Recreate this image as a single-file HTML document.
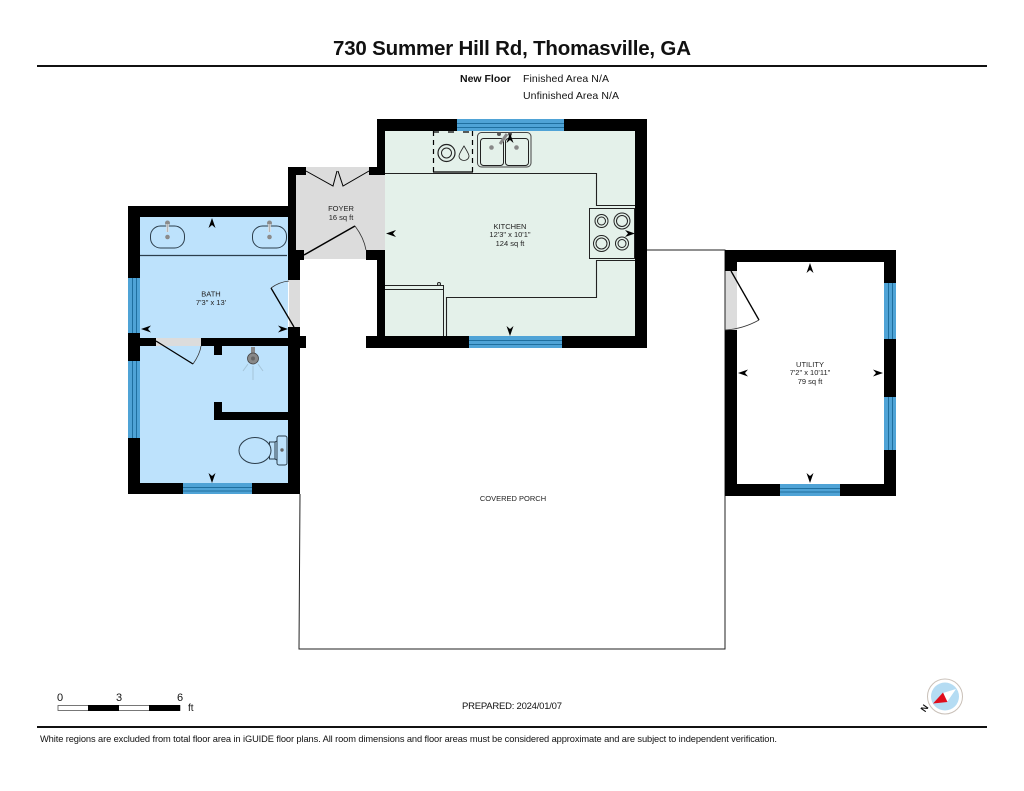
<!DOCTYPE html>
<html><head><meta charset="utf-8"><style>
html,body{margin:0;padding:0;background:#fff}
svg{display:block}
text{font-family:"Liberation Sans",Arial,sans-serif;fill:#111}
.lbl{font-size:7.5px;text-anchor:middle;fill:#222}
</style></head><body>
<svg xmlns="http://www.w3.org/2000/svg" width="1024" height="791" viewBox="0 0 1024 791">
<rect width="1024" height="791" fill="#fff"/>
<text x="512" y="55" font-size="20.5" font-weight="bold" text-anchor="middle" textLength="358" fill="#000">730 Summer Hill Rd, Thomasville, GA</text>
<rect x="37" y="65" width="950" height="2" fill="#111"/>
<text x="460" y="82" font-size="10.5" font-weight="bold">New Floor</text>
<text x="523" y="82" font-size="10.5" textLength="86">Finished Area N/A</text>
<text x="523" y="99" font-size="10.5" textLength="96">Unfinished Area N/A</text>

<!-- room fills -->
<rect x="385" y="131" width="250" height="205" fill="#e4f1ea"/>
<rect x="140" y="217" width="148" height="266" fill="#bde2fc"/>
<rect x="296" y="167" width="89" height="92" fill="#dcdcdc"/>
<rect x="289" y="280" width="11" height="47" fill="#dcdcdc"/>
<rect x="156" y="338" width="45" height="8" fill="#dcdcdc"/>
<rect x="725" y="271" width="12" height="59" fill="#dcdcdc"/>

<!-- porch -->
<path d="M647 250H725V649H299L300 494" fill="none" stroke="#222" stroke-width="1"/>

<!-- walls -->
<g fill="#000">
<rect x="128" y="206" width="161" height="11"/>
<rect x="128" y="206" width="12" height="72"/>
<rect x="128" y="333" width="12" height="28"/>
<rect x="128" y="438" width="12" height="56"/>
<rect x="128" y="483" width="55" height="11"/>
<rect x="252" y="483" width="48" height="11"/>
<rect x="288" y="327" width="12" height="167"/>
<rect x="288" y="250" width="12" height="30"/>
<rect x="140" y="338" width="16" height="8"/>
<rect x="201" y="338" width="87" height="8"/>
<rect x="300" y="336" width="6" height="12"/>
<rect x="214" y="346" width="8" height="9"/>
<rect x="214" y="402" width="8" height="18"/>
<rect x="214" y="412" width="74" height="8"/>
<rect x="288" y="167" width="8" height="84"/>
<rect x="288" y="167" width="18" height="8"/>
<rect x="369" y="167" width="16" height="8"/>
<rect x="296" y="250" width="8" height="10"/>
<rect x="366" y="250" width="19" height="10"/>
<rect x="377" y="119" width="80" height="12"/>
<rect x="564" y="119" width="83" height="12"/>
<rect x="377" y="119" width="8" height="56"/>
<rect x="377" y="250" width="8" height="98"/>
<rect x="635" y="119" width="12" height="229"/>
<rect x="366" y="336" width="103" height="12"/>
<rect x="562" y="336" width="85" height="12"/>
<rect x="725" y="250" width="171" height="12"/>
<rect x="725" y="250" width="12" height="21"/>
<rect x="725" y="330" width="12" height="166"/>
<rect x="884" y="250" width="12" height="33"/>
<rect x="884" y="339" width="12" height="58"/>
<rect x="884" y="450" width="12" height="46"/>
<rect x="725" y="484" width="55" height="12"/>
<rect x="840" y="484" width="56" height="12"/>
</g>

<!-- windows -->
<g fill="#4fa3d6" stroke="none">
<rect x="457" y="119" width="107" height="12"/>
<rect x="469" y="336" width="93" height="12"/>
<rect x="128" y="278" width="12" height="55"/>
<rect x="128" y="361" width="12" height="77"/>
<rect x="183" y="483" width="69" height="11"/>
<rect x="884" y="283" width="12" height="56"/>
<rect x="884" y="397" width="12" height="53"/>
<rect x="780" y="484" width="60" height="12"/>
</g>
<g stroke="#1f6f9f" stroke-width="1" fill="none">
<path d="M457 123.500H564M457 127.500H564"/>
<path d="M469 340.500H562M469 344.500H562"/>
<path d="M132.500 278V333M136.500 278V333"/>
<path d="M132.500 361V438M136.500 361V438"/>
<path d="M183 487.500H252M183 491H252"/>
<path d="M888.500 283V339M892.500 283V339"/>
<path d="M888.500 397V450M892.500 397V450"/>
<path d="M780 488.500H840M780 492H840"/>
</g>

<!-- doors -->
<g fill="none" stroke="#000">
<path d="M304 255L355 226" stroke-width="1.500"/>
<path d="M355 226Q364 238 366 250" stroke-width=".8" stroke="#333"/>
<path d="M294 327L271 288" stroke-width="1.300"/>
<path d="M271 288Q279 282 289 281" stroke-width=".8" stroke="#333"/>
<path d="M156 341L193 364" stroke-width="1.300"/>
<path d="M193 364Q200 354 201 346" stroke-width=".8" stroke="#333"/>
<path d="M731 271L759 320" stroke-width="1.300"/>
<path d="M759 320Q743 329 725 330" stroke-width=".8" stroke="#333"/>
<path d="M306 171L333 186L337 171" stroke-width="1"/>
<path d="M369 171L343 186L338 171" stroke-width="1"/>
</g>

<!-- kitchen counters -->
<g fill="none" stroke="#222" stroke-width="1">
<path d="M385 173.500H596.500V205.500H635" stroke-width="1.100"/>
<path d="M635 260.500H596.500V297.500H446.500V336" stroke-width="1.100"/>
<path d="M385 285.500H443.500V336"/>
<path d="M385 289.500H443"/>
<circle cx="439" cy="284" r="1.500"/>
<rect x="589.500" y="208.500" width="45" height="50" fill="#e4f1ea"/>
<circle cx="601.500" cy="221" r="6.500"/><circle cx="601.500" cy="221" r="4"/>
<circle cx="622" cy="221" r="8"/><circle cx="622" cy="221" r="5.500"/>
<circle cx="601.500" cy="243.500" r="8"/><circle cx="601.500" cy="243.500" r="5.500"/>
<circle cx="622" cy="243.500" r="6.500"/><circle cx="622" cy="243.500" r="4"/>
<rect x="477.500" y="132.500" width="53.500" height="34.500" rx="4" stroke="#444"/>
<rect x="480.500" y="138.500" width="23" height="27" rx="3"/>
<rect x="505.500" y="138.500" width="23" height="27" rx="3"/>
<path d="M433.500 131V172M472.500 131V172" stroke-width="1.200" stroke-dasharray="5 4" stroke="#000"/>
<path d="M433 132H472" stroke="#000" stroke-width="1.200" stroke-dasharray="6 9"/>
<path d="M433 172H473" stroke="#000" stroke-width="1.200"/>
<circle cx="446.500" cy="153" r="8.500" stroke-width="1.200"/><circle cx="446.500" cy="153" r="5"/>
<path d="M464 146C461 151 459 154 459 156A5 4.500 0 0 0 469 156C469 154 467 151 464 146Z" stroke-width=".8"/>
</g>
<circle cx="491.500" cy="147.500" r="2.300" fill="#888"/>
<circle cx="516.500" cy="147.500" r="2.300" fill="#888"/>
<path d="M500 144L507 134" stroke="#888" stroke-width="3"/>
<circle cx="499" cy="134" r="2" fill="#555"/><circle cx="510" cy="134" r="2" fill="#555"/>

<!-- bath sinks -->
<g fill="none" stroke="#2c3e4c" stroke-width="1">
<rect x="150.500" y="226" width="34" height="22" rx="10"/>
<rect x="252.500" y="226" width="34" height="22" rx="10"/>
<path d="M140 255.500H287" stroke-width="1.200"/>
</g>
<g fill="#8b8b8b">
<circle cx="167.500" cy="237" r="2.300"/><circle cx="269.500" cy="237" r="2.300"/>
<circle cx="167.500" cy="223" r="2.500"/><circle cx="269.500" cy="223" r="2.500"/>
</g>
<path d="M167.500 224V232M269.500 224V232" stroke="#ddd" stroke-width="2.500"/>
<path d="M167.500 224V232M269.500 224V232" stroke="#999" stroke-width=".6" fill="none"/>

<!-- shower -->
<rect x="251" y="347" width="4" height="12" fill="#8a8a8a"/>
<circle cx="253" cy="358.500" r="5.500" fill="#888" stroke="#444" stroke-width=".8"/>
<circle cx="253" cy="358.500" r="2" fill="#666"/>
<path d="M253 366V380M248 364L243 371M258 364L263 371" stroke="#a5c4d8" stroke-width="1" fill="none"/>

<!-- toilet -->
<g fill="#bde2fc" stroke="#2c3e4c" stroke-width="1">
<rect x="269.500" y="442" width="5.500" height="17"/>
<ellipse cx="255" cy="450.500" rx="16" ry="13"/>
<rect x="277" y="436" width="10" height="29" rx="2"/>
</g>
<path d="M275 442L277 441M275 459L277 460" stroke="#2c3e4c" fill="none"/>
<circle cx="282" cy="450" r="1.700" fill="#666"/>

<!-- arrows -->
<g fill="#000">
<path d="M0 0L-3.500 10L0 7L3.500 10Z" transform="translate(212 218)"/>
<path d="M0 0L-3.500 10L0 7L3.500 10Z" transform="translate(810 263)"/>
<path d="M0 0L-3.500 10L0 7L3.500 10Z" transform="translate(510 133)"/>
<path d="M0 0L-3.500 -10L0 -7L3.500 -10Z" transform="translate(212 483)"/>
<path d="M0 0L-3.500 -10L0 -7L3.500 -10Z" transform="translate(510 336)"/>
<path d="M0 0L-3.500 -10L0 -7L3.500 -10Z" transform="translate(810 483)"/>
<path d="M0 0L10 -3.500L7 0L10 3.500Z" transform="translate(141 329)"/>
<path d="M0 0L10 -3.500L7 0L10 3.500Z" transform="translate(386 233.500)"/>
<path d="M0 0L10 -3.500L7 0L10 3.500Z" transform="translate(738 373)"/>
<path d="M0 0L-10 -3.500L-7 0L-10 3.500Z" transform="translate(288 329)"/>
<path d="M0 0L-10 -3.500L-7 0L-10 3.500Z" transform="translate(635 233.500)"/>
<path d="M0 0L-10 -3.500L-7 0L-10 3.500Z" transform="translate(883 373)"/>
</g>

<!-- labels -->
<text class="lbl" x="341" y="211">FOYER</text>
<text class="lbl" x="341" y="220">16 sq ft</text>
<text class="lbl" x="211" y="296.500">BATH</text>
<text class="lbl" x="211" y="305">7'3" x 13'</text>
<text class="lbl" x="510" y="229">KITCHEN</text>
<text class="lbl" x="510" y="237">12'3" x 10'1"</text>
<text class="lbl" x="510" y="246">124 sq ft</text>
<text class="lbl" x="810" y="367">UTILITY</text>
<text class="lbl" x="810" y="375">7'2" x 10'11"</text>
<text class="lbl" x="810" y="384">79 sq ft</text>
<text class="lbl" x="513" y="501">COVERED PORCH</text>

<!-- scale -->
<text x="60" y="701" font-size="11" text-anchor="middle">0</text>
<text x="119" y="701" font-size="11" text-anchor="middle">3</text>
<text x="180" y="701" font-size="11" text-anchor="middle">6</text>
<text x="188" y="711" font-size="10">ft</text>
<rect x="58" y="705.500" width="122" height="5" fill="#fff" stroke="#555" stroke-width=".8"/>
<rect x="88" y="705" width="31" height="6" fill="#000"/>
<rect x="149" y="705" width="31" height="6" fill="#000"/>

<text x="462" y="709" font-size="9.500" textLength="100">PREPARED: 2024/01/07</text>

<!-- compass -->
<circle cx="945" cy="696.500" r="17.500" fill="#fff" stroke="#c9c0b8" stroke-width="1"/>
<circle cx="945" cy="696.500" r="14" fill="#b5dcf3"/>
<path d="M943 693L956 689L947 702Z" fill="#fff"/>
<path d="M933 703.500L943 692.500L947.500 702Z" fill="#e00d1c"/>
<text x="0" y="0" font-size="9" font-weight="bold" text-anchor="middle" transform="translate(927 710) rotate(-55)">N</text>

<rect x="37" y="726" width="950" height="2" fill="#111"/>
<text x="40" y="742" font-size="9.300" textLength="737">White regions are excluded from total floor area in iGUIDE floor plans. All room dimensions and floor areas must be considered approximate and are subject to independent verification.</text>
</svg>
</body></html>
